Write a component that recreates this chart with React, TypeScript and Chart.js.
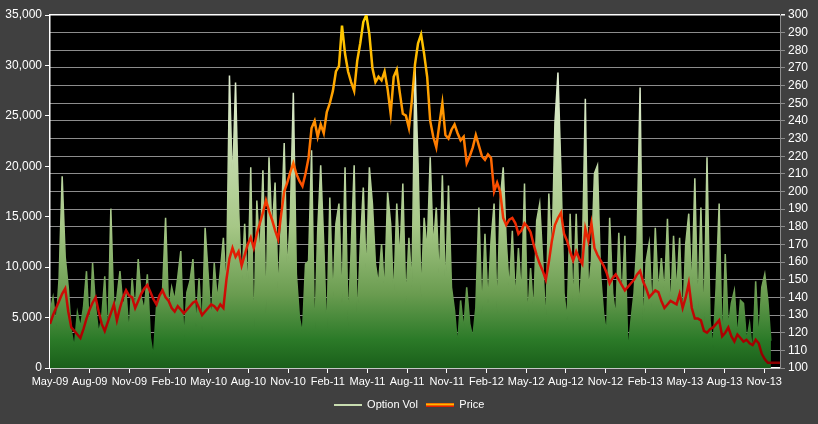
import { useEffect, useRef } from 'react';
import { Chart, registerables } from 'chart.js';

Chart.register(...registerables);

// weekly points, week 0 = first week of May 2009
const quarterLabels = [
	'May-09', 'Aug-09', 'Nov-09', 'Feb-10', 'May-10', 'Aug-10', 'Nov-10',
	'Feb-11', 'May-11', 'Aug-11', 'Nov-11', 'Feb-12', 'May-12', 'Aug-12',
	'Nov-12', 'Feb-13', 'May-13', 'Aug-13', 'Nov-13',
];
const weeksPerQuarter = 52.18 / 4;

const optionVol = [
	5500, 7000, 4200, 9000, 19000, 11000, 8000, 3700, 2000, 5500,
	4000, 6000, 9600, 3400, 10400, 6000, 3400, 5000, 9100, 2500,
	15800, 5700, 7000, 9600, 6000, 7400, 3400, 8900, 5500, 10800,
	7000, 5700, 9300, 3000, 1100, 6000, 7000, 7700, 14900, 5700,
	8000, 6700, 9000, 11600, 2700, 7500, 8600, 10800, 4000, 8900,
	3700, 13900, 9300, 4400, 10400, 6700, 9600, 12900, 7400, 29000,
	17900, 28300, 15900, 8000, 14300, 7400, 19900, 3000, 16600, 10600,
	19600, 5400, 20900, 13300, 18400, 7400, 13900, 22300, 9300, 15000,
	27300, 9300, 5000, 3400, 10300, 10600, 21600, 2400, 13600, 20100,
	12300, 2900, 16900, 6700, 14300, 16300, 6400, 19900, 4200, 11600,
	20100, 4400, 12000, 17900, 8900, 19900, 16300, 10300, 8300, 12300,
	7400, 17400, 14300, 6700, 16300, 10600, 18300, 6400, 12900, 8000,
	30000, 20300, 7000, 14900, 11600, 20900, 11900, 15900, 8600, 19100,
	7400, 18100, 8000, 5700, 2200, 6700, 3700, 8000, 4400, 3000,
	6000, 15900, 5400, 13300, 6400, 12600, 16300, 5400, 16600, 19900,
	12600, 7700, 13600, 6700, 11900, 7000, 18300, 4700, 9900, 5400,
	14600, 16300, 10600, 4000, 17300, 10600, 24300, 29300, 19300, 7400,
	4700, 15300, 6000, 15300, 5700, 10900, 26700, 7400, 10600, 19300,
	20100, 9300, 5400, 3400, 14900, 7400, 5000, 13400, 6400, 13100,
	1500, 4700, 7400, 12600, 27800, 3400, 10600, 12400, 5400, 13900,
	7400, 10900, 7400, 14800, 5400, 13100, 7400, 12900, 4400, 12300,
	15300, 7400, 18800, 5400, 15900, 4000, 20900, 4700, 2000, 8000,
	16300, 1700, 11300, 4000, 6400, 7700, 3000, 6700, 6400, 2700,
	4400, 1400, 8600, 2700, 8000, 9300, 6700, 2700,
];

const price = [
	125, 130, 134, 138, 142, 145, 132, 123, 121, 119,
	117, 122, 128, 133, 137, 140, 132, 125, 121, 126,
	131, 136, 127, 134, 140, 144, 141, 140, 134, 138,
	142, 145, 147, 143, 139, 136, 141, 144, 140, 138,
	134, 132, 135, 133, 131, 133, 135, 137, 138, 134,
	130, 132, 134, 136, 135, 133, 136, 134, 150, 162,
	168, 163, 166, 158, 164, 170, 174, 168, 176, 182,
	188, 195, 189, 184, 178, 173, 187, 200, 205, 211,
	216, 210, 206, 203, 210, 219, 236, 240, 231, 238,
	233, 245, 250, 257, 268, 271, 294, 278, 268, 262,
	257, 274, 284, 296, 300, 289, 270, 262, 265, 263,
	268, 258, 244, 265, 269, 256, 244, 243, 236, 252,
	272, 284, 289, 278, 265, 240, 231, 225, 238, 250,
	232, 230, 235, 238, 233, 229, 231, 216, 220, 225,
	232, 226, 220, 218, 221, 219, 200, 205, 200, 185,
	181, 184, 185, 182, 176, 178, 182, 180, 177, 170,
	164, 159, 155, 150, 160, 172, 181, 185, 188, 176,
	172, 166, 161, 166, 162, 159, 179, 172, 182, 168,
	164, 161, 158, 154, 148, 151, 153, 150, 147, 144,
	146, 148, 150, 153, 155, 149, 145, 140, 142, 144,
	143, 138, 134, 136, 138, 137, 136, 142, 134, 140,
	148, 134, 128, 128, 127, 121, 120, 122, 123, 125,
	127, 118, 120, 123, 118, 115, 119, 117, 115, 116,
	114, 113, 116, 114, 108, 105, 103, 103, 103, 103,
	103,
];

const volStops: [number, string][] = [
	[0, '#1a5f1a'],
	[0.08, '#2b7a28'],
	[0.21, '#6a9c50'],
	[0.4, '#a6c786'],
	[0.75, '#d8e8c6'],
	[1, '#eef5e4'],
];
const priceStops: [number, string][] = [
	[0, '#850000'],
	[0.1, '#b00000'],
	[0.25, '#d81008'],
	[0.45, '#f23200'],
	[0.55, '#ff5c00'],
	[0.7, '#ff9200'],
	[0.85, '#ffb400'],
	[1, '#ffd200'],
];

function verticalGradient(stops: [number, string][], fallback: string) {
	return (context: any) => {
		const { ctx, chartArea } = context.chart;
		if (!chartArea) return fallback;
		const g = ctx.createLinearGradient(0, chartArea.bottom, 0, chartArea.top);
		stops.forEach(([p, c]) => g.addColorStop(p, c));
		return g;
	};
}

function legendLine(rows: string[]) {
	const c = document.createElement('canvas');
	c.width = 28;
	c.height = rows.length;
	const g = c.getContext('2d')!;
	rows.forEach((col, i) => {
		g.fillStyle = col;
		g.fillRect(0, i, 28, 1);
	});
	return c;
}

const backdrop = {
	id: 'backdrop',
	beforeDraw(chart: any) {
		const { ctx, chartArea, width, height } = chart;
		ctx.save();
		ctx.fillStyle = '#404040';
		ctx.fillRect(0, 0, width, height);
		ctx.fillStyle = '#000000';
		ctx.fillRect(chartArea.left, chartArea.top, chartArea.right - chartArea.left, chartArea.bottom - chartArea.top);
		ctx.restore();
	},
};

const family = '"Liberation Sans", Arial, sans-serif';
const font = { family, size: 12 };

export default function App() {
	const canvasRef = useRef<HTMLCanvasElement>(null);

	useEffect(() => {
		document.body.style.margin = '0';
		if (!canvasRef.current) return;
		const legendImgs = [
			legendLine(['#c8dcb0', '#c8dcb0']),
			legendLine(['#e82000', '#ffd000', '#ffa000', '#e02000']),
		];
		const chart = new Chart(canvasRef.current, {
			type: 'line',
			data: {
				datasets: [
					{
						label: 'Option Vol',
						data: optionVol.map((v, i) => ({ x: i, y: v })),
						yAxisID: 'y',
						borderColor: verticalGradient(volStops, '#6a9a50'),
						backgroundColor: verticalGradient(volStops, '#6a9a50'),
						borderWidth: 1.5,
						fill: 'origin',
						pointRadius: 0,
						tension: 0,
						order: 2,
					},
					{
						label: 'Price',
						data: price.map((v, i) => ({ x: i, y: v })),
						yAxisID: 'y1',
						borderColor: verticalGradient(priceStops, '#ff4000'),
						borderWidth: 2.5,
						fill: false,
						pointRadius: 0,
						tension: 0,
						order: 1,
					},
				],
			},
			options: {
				animation: false,
				responsive: false,
				layout: { padding: { top: 15, bottom: 4 } },
				scales: {
					x: {
						type: 'linear',
						min: 0,
						max: 240,
						afterBuildTicks: (scale: any) => {
							scale.ticks = quarterLabels.map((_, q) => ({ value: q * weeksPerQuarter }));
						},
						afterFit: (scale: any) => {
							scale.height = 23;
						},
						ticks: {
							color: '#ffffff',
							font: { family, size: 11 },
							autoSkip: false,
							maxRotation: 0,
							padding: 2,
							callback: (_v: any, i: number) => quarterLabels[i],
						},
						grid: { drawOnChartArea: false, color: '#ffffff', tickLength: 5 },
						border: { color: '#ffffff', width: 1.5 },
					},
					y: {
						position: 'left',
						min: 0,
						max: 35000,
						afterFit: (scale: any) => {
							scale.width = 50;
						},
						ticks: {
							stepSize: 5000,
							color: '#ffffff',
							font,
							padding: 3,
							callback: (v: any) => Number(v).toLocaleString('en-US'),
						},
						grid: { drawOnChartArea: false, color: '#ffffff', tickLength: 5 },
						border: { color: '#ffffff', width: 1.5 },
					},
					y1: {
						position: 'right',
						min: 100,
						max: 300,
						afterFit: (scale: any) => {
							scale.width = 38;
						},
						ticks: { stepSize: 10, color: '#ffffff', font, padding: 3 },
						grid: {
							color: (ctx: any) => (ctx.tick && ctx.tick.value === 300 ? '#ffffff' : '#8c8c8c'),
							lineWidth: (ctx: any) => (ctx.tick && ctx.tick.value === 300 ? 1.5 : 1),
							tickLength: 5,
						},
						border: { color: '#8c8c8c', width: 1 },
					},
				},
				plugins: {
					tooltip: { enabled: false },
					legend: {
						position: 'bottom',
						labels: {
							color: '#ffffff',
							font: { family, size: 11 },
							usePointStyle: true,
							pointStyleWidth: 28,
							padding: 8,
							generateLabels: (c: any) =>
								c.data.datasets.map((ds: any, i: number) => ({
									text: ds.label,
									pointStyle: legendImgs[i],
									fillStyle: 'transparent',
									strokeStyle: 'transparent',
									lineWidth: 0,
									hidden: false,
									datasetIndex: i,
									fontColor: '#ffffff',
								})),
						},
					},
				},
			},
			plugins: [backdrop],
		});
		return () => chart.destroy();
	}, []);

	return (
		<div style={{ width: 818, height: 424, background: '#404040' }}>
			<canvas ref={canvasRef} width={818} height={424}></canvas>
		</div>
	);
}
